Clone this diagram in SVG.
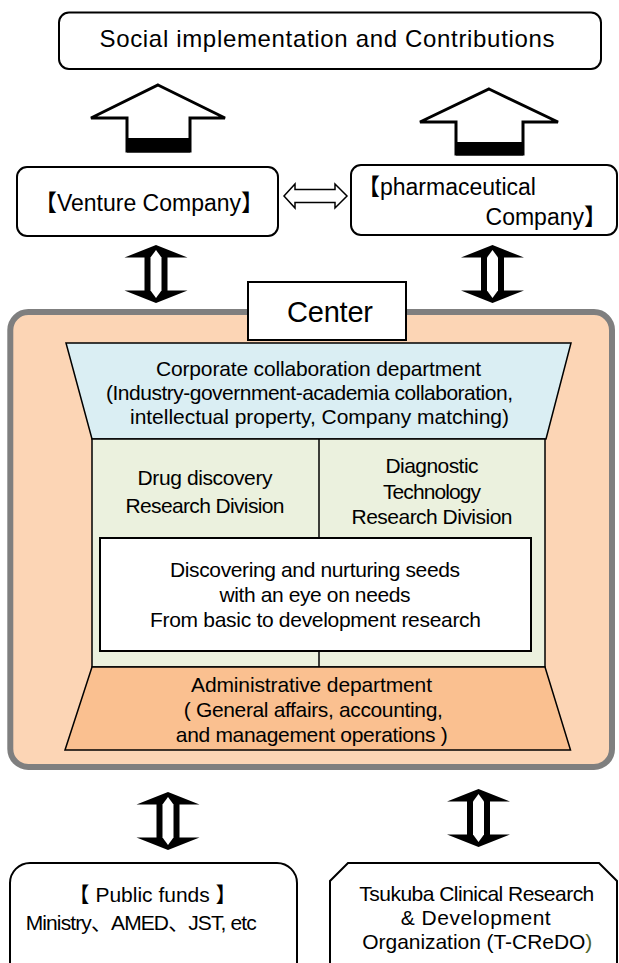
<svg xmlns="http://www.w3.org/2000/svg" width="619" height="963" viewBox="0 0 619 963">
<defs>
<style>
text{font-family:'Liberation Sans','Noto Sans CJK JP',sans-serif;fill:#000;}
.b{font-size:21px;text-anchor:middle;}
.box{fill:#fff;stroke:#000;stroke-width:2;}
.ln{fill:none;stroke:#000;stroke-width:1.5;}
</style>
<g id="vdbl">
<path d="M0,0 L31.5,12.5 L11.5,12.5 L11.5,45.5 L31.5,45.5 L0,58 L-31.5,45.5 L-11.5,45.5 L-11.5,12.5 L-31.5,12.5 Z" fill="#000"/>
<path d="M0,5 L5.5,12.5 L5.5,45.5 L0,53 L-5.5,45.5 L-5.5,12.5 Z" fill="#fff"/>
</g>
</defs>
<rect width="619" height="963" fill="#fff"/>

<g id="n-title">
<rect class="box" x="59" y="12.5" width="542" height="56.5" rx="10"/>
<text x="327" y="47" font-size="24" text-anchor="middle" textLength="455">Social implementation and Contributions</text>
</g>

<g id="n-venture">
<rect class="box" x="17" y="167" width="261" height="69" rx="10"/>
<text x="149" y="211" font-size="23" text-anchor="middle">【Venture Company】</text>
</g>

<g id="n-pharma">
<rect class="box" x="351" y="165" width="266" height="70" rx="10"/>
<text x="357" y="195" font-size="23">【pharmaceutical</text>
<text x="607" y="225" font-size="23" text-anchor="end">Company】</text>
</g>

<g id="n-center">
<rect x="10.3" y="312" width="601.7" height="455" rx="18" fill="#FCD5B5" stroke="#7F7F7F" stroke-width="6"/>
</g>

<g id="n-center-label">
<rect class="box" x="248" y="282" width="158" height="58"/>
<text x="330" y="322" font-size="29" text-anchor="middle" textLength="86">Center</text>
</g>

<g id="n-corporate">
<polygon points="66,343 571,343 546,439 92,439" fill="#DAEEF3" stroke="#000" stroke-width="1.5"/>
<text class="b" x="318.5" y="376" textLength="325">Corporate collaboration department</text>
<text class="b" x="309.5" y="400" textLength="407">(Industry-government-academia collaboration,</text>
<text class="b" x="319.5" y="424" textLength="379">intellectual property, Company matching)</text>
</g>

<g id="n-divisions">
<rect x="92" y="439" width="453" height="228" fill="#EBF1DE" stroke="#000" stroke-width="1.5"/>
<line class="ln" x1="319" y1="439" x2="319" y2="667"/>
</g>

<g id="n-drug">
<text class="b" x="205" y="485" textLength="135">Drug discovery</text>
<text class="b" x="205" y="513" textLength="159">Research Division</text>
</g>

<g id="n-diagnostic">
<text class="b" x="432" y="473" textLength="93">Diagnostic</text>
<text class="b" x="432" y="498.5" textLength="98">Technology</text>
<text class="b" x="432" y="524" textLength="161">Research Division</text>
</g>

<g id="n-seeds">
<rect class="box" x="100" y="538" width="431" height="113"/>
<text class="b" x="315" y="577" textLength="290">Discovering and nurturing seeds</text>
<text class="b" x="315" y="602" textLength="191">with an eye on needs</text>
<text class="b" x="315.5" y="627" textLength="331">From basic to development research</text>
</g>

<g id="n-admin">
<polygon points="92,667 545,667 570.5,750 65,750" fill="#FAC090" stroke="#000" stroke-width="1.5"/>
<text class="b" x="311.5" y="691.5" textLength="241">Administrative department</text>
<text class="b" x="313.3" y="716.5" textLength="259">( General affairs, accounting,</text>
<text class="b" x="311.8" y="741.5" textLength="272">and management operations )</text>
</g>

<g id="n-public">
<rect class="box" x="10" y="863" width="287" height="125" rx="20"/>
<text class="b" x="152.6" y="902">【 Public funds 】</text>
<text class="b" x="141.2" y="930" textLength="231">Ministry、AMED、JST, etc</text>
</g>

<g id="n-tcredo">
<path class="box" d="M330,990 V881 L348,863 H599 L617,881 V990"/>
<text class="b" x="476.8" y="901" textLength="235">Tsukuba Clinical Research</text>
<text class="b" x="475.7" y="925" textLength="150">&amp; Development</text>
<text class="b" x="477.3" y="949" textLength="230">Organization (T-CReDO<tspan fill="#4F6228">)</tspan></text>
</g>

<g id="connectors">
<polygon points="158,85 225,118 190,118 190,151 127,151 127,118 91,118" fill="#fff" stroke="#000" stroke-width="3"/>
<rect x="127" y="138" width="63" height="14.5" fill="#000"/>
<polygon points="489,89 558,122 523,122 523,154 456,154 456,122 420,122" fill="#fff" stroke="#000" stroke-width="3"/>
<rect x="456" y="142" width="67" height="13.5" fill="#000"/>
<polygon points="284,196 295,184 295,189.5 335,189.5 335,184 347,196 335,208 335,202.5 295,202.5 295,208" fill="#fff" stroke="#000" stroke-width="1.5"/>
<use href="#vdbl" x="156" y="245"/>
<use href="#vdbl" x="492.5" y="245"/>
<use href="#vdbl" x="168" y="792"/>
<use href="#vdbl" x="478.5" y="789"/>
</g>
</svg>
